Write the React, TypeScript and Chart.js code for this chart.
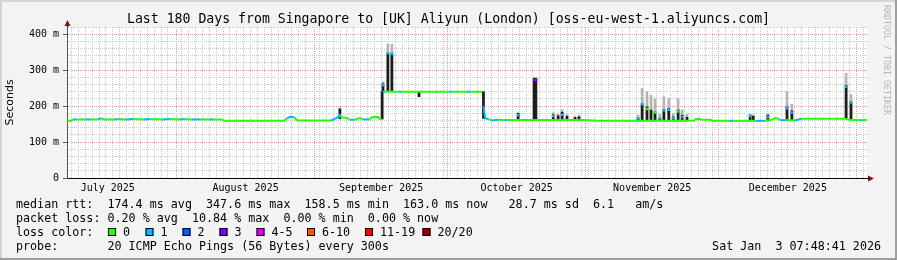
import React, { useEffect, useRef } from 'react';
import { Chart, registerables } from 'chart.js';

Chart.register(...registerables);

// ---------- text ----------
const TITLE = 'Last 180 Days from Singapore to [UK] Aliyun (London) [oss-eu-west-1.aliyuncs.com]';
const Y_TITLE = 'Seconds';
const STATS_LINE = 'median rtt:  174.4 ms avg  347.6 ms max  158.5 ms min  163.0 ms now   28.7 ms sd  6.1   am/s';
const LOSS_LINE = 'packet loss: 0.20 % avg  10.84 % max  0.00 % min  0.00 % now';
const LOSS_COLOR_LABEL = 'loss color:';
const PROBE_LINE = 'probe:       20 ICMP Echo Pings (56 Bytes) every 300s';
const DATE_TEXT = 'Sat Jan  3 07:48:41 2026';
const WATERMARK = 'RRDTOOL / TOBI OETIKER';

// ---------- time axis ----------
const START = Date.UTC(2025, 6, 7, 7, 48, 41);
const RANGE_DAYS = 180;
const DAY = 86400000;
const monthStarts: [number, number][] = [[2025, 6], [2025, 7], [2025, 8], [2025, 9], [2025, 10], [2025, 11], [2026, 0]];
const monthLabels = ['July 2025', 'August 2025', 'September 2025', 'October 2025', 'November 2025', 'December 2025'];
const X_MINOR_FIRST = 1.0;
const X_MINOR_STEP = 1.55;

// ---------- value axis ----------
const yTickValues = [0, 20, 40, 60, 80, 100, 120, 140, 160, 180, 200, 220, 240, 260, 280, 300, 320, 340, 360, 380, 400, 420];
const yMajorLabels: Record<number, string> = { 0: '0', 100: '100 m', 200: '200 m', 300: '300 m', 400: '400 m' };

// ---------- loss legend ----------
const lossLabels = ['0', '1', '2', '3', '4-5', '6-10', '11-19', '20/20'];
const lossColors = ['#26ff00', '#00b8ff', '#0059ff', '#7e00ff', '#dd00ff', '#ff5500', '#ff0000', '#a10000'];

// ---------- median rtt line (days since start, ms, lost pings; -1 = no median drawn) ----------
const medDays = [
  0.0, 0.7, 1.4, 2.3, 4.3, 5.2, 7.0, 7.8, 8.4, 10.6, 11.4, 13.3, 14.9, 17.3, 18.7, 21.4, 23.0, 25.4, 26.3, 28.1,
  29.9, 32.2, 33.0, 34.9, 35.3, 48.8, 49.5, 50.2, 51.1, 51.8, 59.4, 60.5, 61.2, 62.1, 63.0, 63.7, 64.6, 65.9, 66.6, 68.0,
  68.6, 70.0, 70.4, 70.8, 71.0, 71.6, 74.6, 75.3, 86.0, 86.8, 90.0, 90.8, 93.4, 93.7, 94.1, 94.9, 95.6, 97.0, 98.4, 99.0,
  116.1, 119.5, 141.1, 141.5, 142.4, 142.9, 144.9, 145.4, 146.0, 149.0, 149.9, 155.0, 157.1, 158.6, 159.3, 160.0, 160.5, 161.8, 163.8, 165.3,
  175.1, 176.7, 178.4, 179.0, 180.0,
];
const medMs = [
  161, 158, 163, 163, 163, 163, 163, 166, 163, 163, 164, 163, 164, 163, 164, 163, 164, 163, 164, 163,
  163, 163, 163, 163, 159, 159, 166, 170, 169, 160, 160, 166, 172, 168, 167, 162, 162, 167, 163, 163,
  169, 170, 164, 164, 240, 240, 240, 240, 240, 240, 240, 240, 240, 200, 166, 164, 160, 162, 161, 161,
  161, 159, 159, 164, 164, 162, 162, 158, 159, 159, 159, 159, 159, 162, 167, 165, 161, 161, 160, 165,
  165, 161, 161, 161, 161,
];
const medLoss = [
  0, 0, 1, 0, 1, 0, 1, 0, 0, 1, 0, 1, 0, 1, 0, 1, 0, 1, 0, 1,
  0, 1, 0, 0, 0, 0, 1, 1, 0, 0, 1, 1, 0, 0, 0, 1, 0, 0, 1, 0,
  0, 0, 0, -1, 1, 0, 1, 0, 1, 0, 1, 0, -1, 1, 1, 0, 1, 0, 1, 0,
  0, 0, 0, 0, 0, 0, 0, 0, 0, 1, 0, 1, 0, 0, 0, 0, 1, 0, 1, 0,
  0, 0, 1, 0, 0,
];

// ---------- median peaks on spikes ----------
const peakDays = [61.4, 71.1, 72.2, 73.1, 101.5, 105.1, 105.5, 109.4, 111.4, 128.5, 129.4, 130.5, 132.3, 133.4, 134.3, 135.4, 136.4, 137.5, 138.4, 153.7, 157.7, 162.0, 163.1, 175.3, 176.4];
const peakMs = [175, 258, 347, 345, 175, 272, 272, 172, 176, 166, 205, 192, 182, 166, 188, 190, 166, 185, 170, 172, 170, 194, 182, 254, 210];
const peakLoss = [1, 1, 1, 1, 1, 3, 3, 1, 1, 1, 1, 0, 0, 1, 1, 1, 1, 0, 1, 1, 1, 1, 1, 1, 1];

// ---------- smoke (spread of the pings) ----------
const smokeDays = [61.4, 70.9, 71.1, 72.2, 73.1, 79.2, 93.7, 101.5, 105.1, 105.5, 109.4, 110.5, 111.4, 112.5, 114.3, 115.2, 128.5, 129.4, 130.5, 131.4, 132.3, 133.4, 134.3, 135.4, 136.4, 137.5, 138.4, 139.5, 153.7, 154.4, 157.7, 162.0, 163.1, 175.3, 176.4];
const smokeLow = [165, 164, 240, 240, 240, 226, 166, 161, 161, 161, 161, 161, 161, 161, 161, 161, 159, 159, 159, 159, 159, 159, 159, 159, 159, 159, 159, 159, 159, 159, 159, 161, 161, 165, 165];
const smokeHigh = [192, 240, 262, 347, 347, 240, 240, 180, 277, 277, 176, 173, 183, 172, 168, 170, 166, 207, 198, 189, 184, 166, 191, 194, 170, 189, 175, 169, 175, 172, 175, 198, 187, 258, 212];
const smokeTop = [195, 240, 268, 372, 372, 240, 240, 182, 280, 280, 182, 178, 190, 176, 172, 175, 175, 249, 240, 230, 221, 178, 226, 221, 180, 221, 190, 178, 178, 175, 178, 240, 205, 291, 232];

const lossColorIndex = (n: number) => (n <= 3 ? n : n <= 5 ? 4 : n <= 10 ? 5 : n <= 19 ? 6 : 7);

const MONO = 'DejaVu Sans Mono';
const TRANSPARENT = 'rgba(0,0,0,0)';
const MAJOR_GRID = '#e89a9a';
const MINOR_GRID = '#c9c9c9';

export default function App() {
  const ref = useRef<HTMLCanvasElement>(null);

  useEffect(() => {
    const canvas = ref.current;
    if (!canvas) return;

    const monthStartDay = monthStarts.map(([y, m]) => (Date.UTC(y, m, 1) - START) / DAY);
    const xTicks: any[] = [];
    const majors = monthStartDay.filter((d) => d > 0 && d < RANGE_DAYS);
    for (let v = X_MINOR_FIRST; v < RANGE_DAYS; v += X_MINOR_STEP) {
      if (majors.every((m) => Math.abs(m - v) > 0.5)) xTicks.push({ value: v, kind: 'minor' });
    }
    majors.forEach((d) => xTicks.push({ value: d, kind: 'major' }));
    monthLabels.forEach((name, i) => xTicks.push({ value: (monthStartDay[i] + monthStartDay[i + 1]) / 2, kind: 'label', lbl: name }));
    xTicks.sort((a, b) => a.value - b.value);

    const deco = {
      id: 'deco',
      beforeDraw(chart: any) {
        const { ctx, width, height, chartArea: a } = chart;
        ctx.save();
        ctx.fillStyle = '#f3f3f3';
        ctx.fillRect(0, 0, width, height);
        ctx.fillStyle = '#d4d4d4';
        ctx.fillRect(0, 0, width, 2);
        ctx.fillRect(0, 0, 2, height);
        ctx.fillStyle = '#9e9e9e';
        ctx.fillRect(0, height - 2, width, 2);
        ctx.fillRect(width - 2, 0, 2, height);
        ctx.fillStyle = '#ffffff';
        ctx.fillRect(a.left, a.top, a.right - a.left, a.bottom - a.top);
        ctx.restore();
      },
      afterDraw(chart: any) {
        const { ctx, chartArea: a } = chart;
        ctx.save();
        // arrows
        ctx.fillStyle = '#8b1010';
        ctx.beginPath();
        ctx.moveTo(a.left + 0.5, a.top - 7);
        ctx.lineTo(a.left - 2.5, a.top - 1);
        ctx.lineTo(a.left + 3.5, a.top - 1);
        ctx.closePath();
        ctx.fill();
        ctx.beginPath();
        ctx.moveTo(a.right + 7, a.bottom + 0.5);
        ctx.lineTo(a.right + 1, a.bottom - 2.5);
        ctx.lineTo(a.right + 1, a.bottom + 3.5);
        ctx.closePath();
        ctx.fill();
        ctx.fillStyle = '#000';
        ctx.fillRect(a.right, a.bottom, 2, 1);
        ctx.fillRect(a.left, a.top - 1, 1, 1);

        // legend text
        ctx.font = `11.7px "${MONO}"`;
        ctx.textBaseline = 'alphabetic';
        ctx.textAlign = 'left';
        ctx.fillStyle = '#000';
        ctx.fillText(STATS_LINE, 16, 208);
        ctx.fillText(LOSS_LINE, 16, 222);
        ctx.fillText(LOSS_COLOR_LABEL, 16, 235.8);
        ctx.fillText(PROBE_LINE, 16, 249.7);
        const boxX = [108, 145.5, 182.5, 219.5, 256.5, 307, 365, 422.5];
        lossLabels.forEach((lbl, i) => {
          ctx.fillStyle = lossColors[i];
          ctx.fillRect(boxX[i], 228, 8, 8);
          ctx.strokeStyle = '#000';
          ctx.lineWidth = 1;
          ctx.strokeRect(boxX[i] + 0.5, 228.5, 7, 7);
          ctx.fillStyle = '#000';
          ctx.fillText(lbl, boxX[i] + 15, 235.8);
        });
        ctx.textAlign = 'right';
        ctx.fillText(DATE_TEXT, 881, 249.7);

        // watermark
        ctx.translate(884, 5);
        ctx.rotate(Math.PI / 2);
        ctx.textAlign = 'left';
        ctx.textBaseline = 'alphabetic';
        ctx.font = `8.3px "${MONO}"`;
        ctx.fillStyle = '#b5b5b5';
        ctx.fillText(WATERMARK, 0, 0);
        ctx.restore();
      },
    };

    const chart = new Chart(canvas, {
      type: 'line',
      data: {
        datasets: [
          {
            type: 'scatter',
            data: peakDays.map((d, i) => ({ x: d, y: peakMs[i] })),
            showLine: false,
            pointStyle: 'rect',
            pointRadius: 1.8,
            pointBorderWidth: 0,
            pointBackgroundColor: peakLoss.map((l) => lossColors[lossColorIndex(l)]),
            order: 0,
          } as any,
          {
            type: 'line',
            data: medDays.map((d, i) => ({ x: d, y: medMs[i] })),
            borderColor: lossColors[0],
            borderWidth: 2,
            pointRadius: 0,
            tension: 0,
            borderCapStyle: 'butt',
            segment: {
              borderColor: (c: any) => {
                const l = medLoss[c.p0DataIndex];
                return l < 0 ? TRANSPARENT : lossColors[lossColorIndex(l)];
              },
            },
            order: 1,
          } as any,
          {
            type: 'bar',
            data: smokeDays.map((d, i) => ({ x: d, y: [smokeLow[i], smokeHigh[i]] })),
            backgroundColor: '#1c1c1c',
            barThickness: 2,
            grouped: false,
            order: 2,
          } as any,
          {
            type: 'bar',
            data: smokeDays.map((d, i) => ({ x: d, y: [smokeLow[i], smokeTop[i]] })),
            backgroundColor: '#b4b4b4',
            barThickness: 2,
            grouped: false,
            order: 3,
          } as any,
        ],
      },
      options: {
        responsive: false,
        animation: false,
        devicePixelRatio: 1,
        layout: { padding: 0 },
        plugins: {
          legend: { display: false },
          tooltip: { enabled: false },
          title: {
            display: true,
            text: TITLE,
            color: '#000',
            font: { family: MONO, size: 13.2, weight: 'normal', lineHeight: 1 },
            padding: { top: 13, bottom: 0.8 },
          },
        },
        scales: {
          x: {
            type: 'linear',
            min: 0,
            max: RANGE_DAYS,
            offset: false,
            afterBuildTicks: (s: any) => {
              s.ticks = xTicks.map((t) => ({ ...t }));
            },
            afterFit: (s: any) => {
              s.height = 82;
            },
            ticks: {
              autoSkip: false,
              maxRotation: 0,
              minRotation: 0,
              padding: 1,
              color: '#000',
              font: { family: MONO, size: 10 },
              callback: (_v: any, i: number, ticks: any[]) => ticks[i].lbl || '',
            },
            grid: {
              offset: false,
              lineWidth: 1,
              color: (c: any) => (c.tick?.kind === 'major' ? MAJOR_GRID : c.tick?.kind === 'minor' ? MINOR_GRID : TRANSPARENT),
              drawTicks: true,
              tickLength: 3,
              tickColor: TRANSPARENT,
            },
            border: { display: true, color: '#000', width: 1, dash: [1, 1] },
          },
          y: {
            type: 'linear',
            min: 0,
            max: 420,
            afterBuildTicks: (s: any) => {
              s.ticks = yTickValues.map((v) => ({ value: v }));
            },
            afterFit: (s: any) => {
              s.width = 67;
            },
            ticks: {
              autoSkip: false,
              padding: 4,
              color: '#000',
              font: { family: MONO, size: 10 },
              callback: (v: any) => yMajorLabels[v as number] ?? '',
            },
            grid: {
              lineWidth: 1,
              color: (c: any) => {
                const v = c.tick?.value;
                if (v === 0) return TRANSPARENT;
                return v % 100 === 0 ? MAJOR_GRID : MINOR_GRID;
              },
              drawTicks: true,
              tickLength: 4,
              tickColor: (c: any) => (c.tick && c.tick.value % 100 === 0 ? '#555' : TRANSPARENT),
            },
            border: { display: true, color: '#555', width: 1, dash: [1, 1] },
            title: {
              display: true,
              text: Y_TITLE,
              color: '#000',
              font: { family: 'DejaVu Sans', size: 11 },
              padding: { top: 4, bottom: 0 },
            },
          },
          yRight: {
            type: 'linear',
            position: 'right',
            display: true,
            min: 0,
            max: 420,
            afterFit: (s: any) => {
              s.width = 30;
            },
            ticks: { display: false },
            grid: { display: false, drawTicks: false },
            border: { display: false },
          },
        },
      },
      plugins: [deco],
    } as any);

    return () => chart.destroy();
  }, []);

  return (
    <div style={{ position: 'absolute', left: 0, top: 0, width: 897, height: 260 }}>
      <canvas ref={ref} width={897} height={260} style={{ display: 'block', width: 897, height: 260 }} />
    </div>
  );
}
